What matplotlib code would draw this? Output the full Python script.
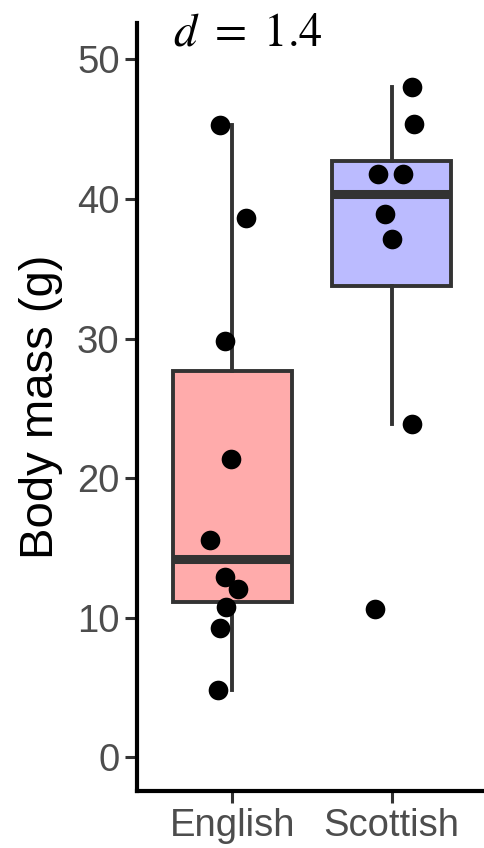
"""
    Body mass of English and Scottish samples: box plot with jittered points
"""
import numpy as np
from matplotlib import pyplot as plt

groups = ["English", "Scottish"]
english_mass = [45.3, 38.6, 29.8, 21.4, 15.6, 12.9, 12.1, 10.8, 9.3, 4.8]
scottish_mass = [48.0, 45.4, 41.8, 41.8, 38.9, 37.1, 23.9, 10.6]
# horizontal jitter (category units)
english_jitter = [-0.080, 0.083, -0.048, -0.011, -0.142, -0.048, 0.033,
                  -0.042, -0.080, -0.092]
scottish_jitter = [0.126, 0.144, -0.082, 0.075, -0.044, 0.006, 0.126, -0.107]
fills = ["#FFABAB", "#BBBBFF"]
y_ticks = [0, 10, 20, 30, 40, 50]
effect_label = r"$d\ =\ 1.4$"


def draw_boxes(ax, data):
    '''ggplot-like boxes, no outlier markers'''
    bp = ax.boxplot(data, positions=[1, 2], widths=0.75, whis=1.5,
                    showfliers=False, patch_artist=True, showcaps=False,
                    medianprops=dict(color="#333333", linewidth=6.5,
                                     solid_capstyle="butt"),
                    boxprops=dict(edgecolor="#333333", linewidth=2.8),
                    whiskerprops=dict(color="#333333", linewidth=2.8))
    for patch, col in zip(bp["boxes"], fills):
        patch.set_facecolor(col)
    return bp


def draw_points(ax, values, jitter, pos):
    xs = [pos + j for j in jitter]
    ax.scatter(xs, values, s=200, color="black", zorder=5, linewidths=0)


if __name__ == '__main__':
    plt.rcParams['font.family'] = ['Liberation Sans', 'DejaVu Sans']
    plt.rcParams['mathtext.fontset'] = 'stix'

    fig = plt.figure(figsize=(4.85, 8.48), dpi=100)
    ax = fig.add_axes([137 / 485, 57 / 848, 350 / 485, 768 / 848])

    draw_boxes(ax, [english_mass, scottish_mass])
    draw_points(ax, english_mass, english_jitter, 1)
    draw_points(ax, scottish_mass, scottish_jitter, 2)

    ax.set_xlim(0.4, 2.6)
    ax.set_ylim(-2.4, 52.6)
    ax.set_xticks([1, 2])
    ax.set_xticklabels(groups)
    ax.set_yticks(y_ticks)

    for side in ["top", "right"]:
        ax.spines[side].set_visible(False)
    for side in ["left", "bottom"]:
        ax.spines[side].set_linewidth(3)
        ax.spines[side].set_color("black")
    ax.tick_params(axis="both", length=8.5, width=2.2, color="#333333",
                   labelcolor="#4D4D4D", labelsize=27.5, pad=4)

    ax.set_ylabel("Body mass (g)", fontsize=34, color="black", labelpad=10)

    ax.text(248 / 485, 1 - 45 / 848, effect_label, transform=fig.transFigure,
            fontsize=33.5, ha="center", va="baseline", clip_on=False)

    fig.savefig("out.png", dpi=100)
